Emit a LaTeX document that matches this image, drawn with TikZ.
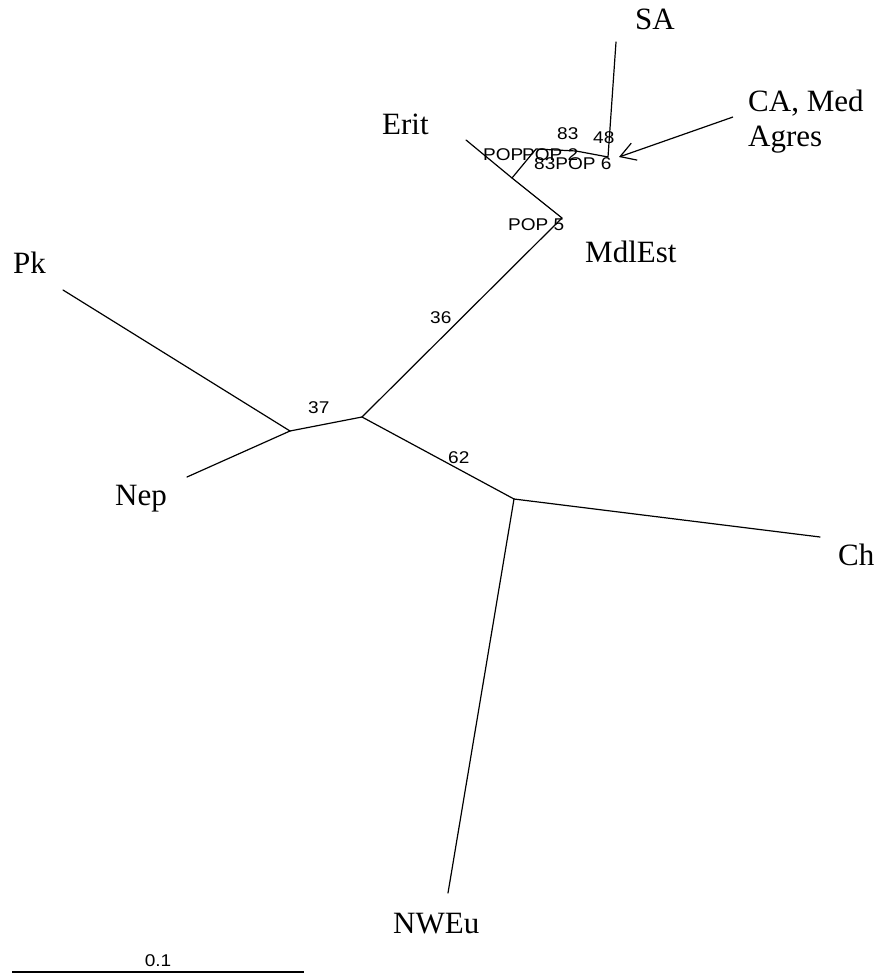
\documentclass[tikz,border=0pt]{standalone}
\usepackage{fontspec}
\setmainfont{Liberation Serif}
\newfontfamily\arialf{Liberation Sans}
\usetikzlibrary{arrows.meta}
\tikzset{
  branch/.style={line width=1.2pt, line cap=round, line join=round},
  taxon/.style={anchor=base west, inner sep=0pt, font=\fontsize{31}{35}\selectfont},
  boot/.style={anchor=base west, inner sep=0pt, font=\arialf\fontsize{17}{19}\selectfont, xscale=1.12},
}
\begin{document}
\begin{tikzpicture}[x=1pt,y=-1pt]
\useasboundingbox (0,0) rectangle (880,976);
% tree nodes
\coordinate (erit) at (466,140);
\coordinate (A) at (512,178);
\coordinate (P5) at (562,218);
\coordinate (B) at (536,149);
\coordinate (Cn) at (576,151);
\coordinate (D) at (608,157);
\coordinate (sa) at (616,42);
\coordinate (C1) at (362,417);
\coordinate (N2) at (290,431);
\coordinate (pk) at (63,290);
\coordinate (nep) at (187,477);
\coordinate (N3) at (514,499);
\coordinate (ch) at (820,537);
\coordinate (nweu) at (448,893);
\coordinate (arrS) at (733,117);
\coordinate (arrE) at (619,157);
\coordinate (sbL) at (12,972);
\coordinate (sbR) at (304,972);
% branches
\draw[branch] (erit) -- (A) -- (P5);
\draw[branch] (A) -- (B) -- (Cn) -- (D) -- (sa);
\draw[branch] (P5) -- (C1);
\draw[branch] (C1) -- (N2);
\draw[branch] (N2) -- (pk);
\draw[branch] (N2) -- (nep);
\draw[branch] (C1) -- (N3);
\draw[branch] (N3) -- (ch);
\draw[branch] (N3) -- (nweu);
\draw[line width=1.2pt, -{Straight Barb[length=15pt,width=18pt,line width=1.2pt]}] (arrS) -- (arrE);
\draw[line width=1.2pt] (sbL) -- (sbR);
% taxon labels
\node[taxon] (tSA) at (635,30) {SA};
\node[taxon] (tCA) at (748,112) {CA, Med};
\node[taxon] (tAg) at (748,147) {Agres};
\node[taxon] (tErit) at (382,135) {Erit};
\node[taxon] (tMdl) at (585,262) {MdlEst};
\node[taxon] (tPk) at (13,273) {Pk};
\node[taxon] (tNep) at (115,505) {Nep};
\node[taxon] (tCh) at (838,565) {Ch};
\node[taxon] (tNW) at (393,933) {NWEu};
% bootstrap / pop labels
\node[boot] (b83a) at (557,140) {83};
\node[boot] (b48) at (593,144) {48};
\node[boot] (pop1) at (483,161) {POP};
\node[boot] (pop2) at (522,161) {POP 2};
\node[boot] (pop6) at (534,170) {83POP 6};
\node[boot] (pop5) at (508,230) {POP 5};
\node[boot] (b36) at (430,323) {36};
\node[boot] (b37) at (308,413) {37};
\node[boot] (b62) at (448,463) {62};
\node[boot, anchor=base] (sbl) at (158,966) {0.1};
\end{tikzpicture}
\end{document}
